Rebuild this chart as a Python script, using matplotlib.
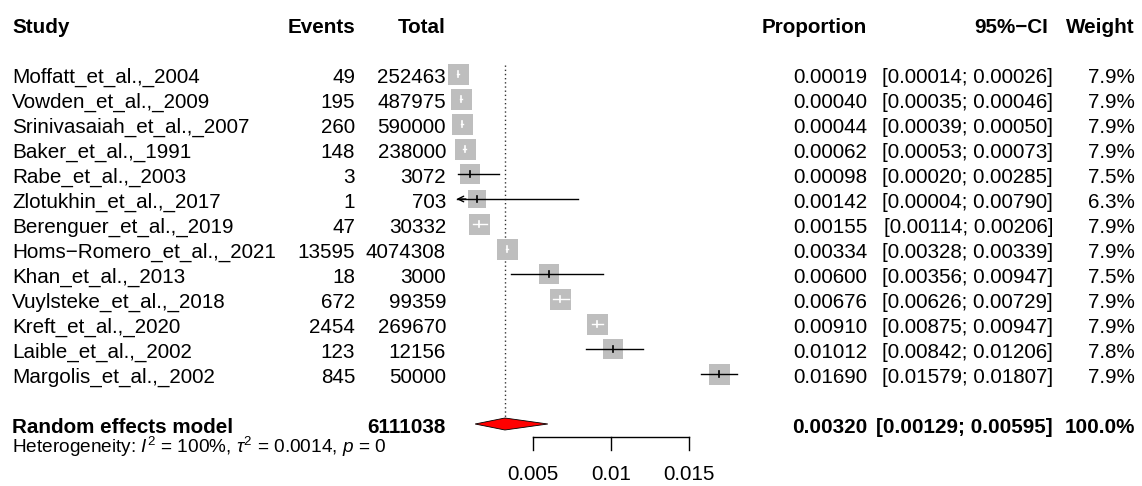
#Forest plot of proportions (random effects meta-analysis)
#Layout mimics the R meta::forest output

import numpy as np
import matplotlib.pyplot as plt
from matplotlib.patches import Polygon

plt.rcParams['font.family'] = ['Liberation Sans', 'DejaVu Sans']
plt.rcParams['mathtext.fontset'] = 'custom'
plt.rcParams['mathtext.rm'] = 'Liberation Sans'
plt.rcParams['mathtext.it'] = 'Liberation Sans:italic'

#Study data
studies = ["Moffatt_et_al.,_2004", "Vowden_et_al.,_2009", "Srinivasaiah_et_al.,_2007",
           "Baker_et_al.,_1991", "Rabe_et_al.,_2003", "Zlotukhin_et_al.,_2017",
           "Berenguer_et_al.,_2019", "Homs\u2212Romero_et_al.,_2021", "Khan_et_al.,_2013",
           "Vuylsteke_et_al.,_2018", "Kreft_et_al.,_2020", "Laible_et_al.,_2002",
           "Margolis_et_al.,_2002"]
events = [49, 195, 260, 148, 3, 1, 47, 13595, 18, 672, 2454, 123, 845]
totals = [252463, 487975, 590000, 238000, 3072, 703, 30332, 4074308, 3000, 99359, 269670, 12156, 50000]
props = [0.00019, 0.00040, 0.00044, 0.00062, 0.00098, 0.00142, 0.00155, 0.00334, 0.00600,
         0.00676, 0.00910, 0.01012, 0.01690]
lower = [0.00014, 0.00035, 0.00039, 0.00053, 0.00020, 0.00004, 0.00114, 0.00328, 0.00356,
         0.00626, 0.00875, 0.00842, 0.01579]
upper = [0.00026, 0.00046, 0.00050, 0.00073, 0.00285, 0.00790, 0.00206, 0.00339, 0.00947,
         0.00729, 0.00947, 0.01206, 0.01807]
weights = [7.9, 7.9, 7.9, 7.9, 7.5, 6.3, 7.9, 7.9, 7.5, 7.9, 7.9, 7.8, 7.9]

#Pooled estimate
total_all = 6111038
pooled = 0.00320
pooled_lo = 0.00129
pooled_hi = 0.00595
xticks = [0.005, 0.01, 0.015]
xtick_labels = ["0.005", "0.01", "0.015"]
xclip = 0.0001

W, H = 1142, 486
px_per_unit = 15600.0   #pixels per unit proportion
x0_px = 455.0           #pixel position of proportion 0
fs = 14.9

fig = plt.figure(figsize=(W/100, H/100), dpi=100)
ax = fig.add_axes([0, 0, 1, 1])
ax.set_xlim(-x0_px/px_per_unit, (W - x0_px)/px_per_unit)
#rows are 25 px apart, row 0 is the header
ax.set_ylim((H - 24)/25.0, -24/25.0)
ax.axis('off')

tr = ax.get_yaxis_transform()
def col(px):
    return px / float(W)

base = 0.36   #baseline offset below row centre

#Header
for txt, xp, ha in [("Study", 12, 'left'), ("Events", 355, 'right'), ("Total", 446, 'right'),
                    ("Proportion", 867, 'right'), ("95%\u2212CI", 1048, 'right'),
                    ("Weight", 1135, 'right')]:
    ax.text(col(xp), base, txt, transform=tr, ha=ha, va='baseline', fontsize=fs, fontweight='bold')

#Study rows
rows = np.arange(len(studies)) + 2
for i, r in enumerate(rows):
    ax.text(col(12), r + base, studies[i], transform=tr, ha='left', va='baseline', fontsize=fs)
    ax.text(col(355), r + base, str(events[i]), transform=tr, ha='right', va='baseline', fontsize=fs)
    ax.text(col(446), r + base, str(totals[i]), transform=tr, ha='right', va='baseline', fontsize=fs)
    ax.text(col(867), r + base, "%.5f" % props[i], transform=tr, ha='right', va='baseline', fontsize=fs)
    ax.text(col(1053), r + base, "[%.5f; %.5f]" % (lower[i], upper[i]), transform=tr,
            ha='right', va='baseline', fontsize=fs)
    ax.text(col(1135), r + base, "%.1f%%" % weights[i], transform=tr, ha='right', va='baseline', fontsize=fs)

    #square sized by weight
    side_px = 21.0 * np.sqrt(weights[i] / 7.9)
    ax.plot(props[i], r, 's', markersize=side_px*0.72, color='#BEBEBE', markeredgewidth=0, zorder=2)

    half = side_px / 2.0 / px_per_unit
    inside = (lower[i] >= props[i] - half) and (upper[i] <= props[i] + half)
    c = 'white' if inside else 'black'
    if lower[i] < xclip:
        ax.plot([xclip, upper[i]], [r, r], color=c, lw=1.0, zorder=3)
        ax.annotate('', xy=(xclip, r), xytext=(xclip + 0.0006, r),
                    arrowprops=dict(arrowstyle='->', color=c, lw=1.0, shrinkA=0, shrinkB=0,
                                    mutation_scale=10), zorder=3)
    else:
        ax.plot([lower[i], upper[i]], [r, r], color=c, lw=1.0, zorder=3)
    ax.plot([props[i], props[i]], [r - 0.12, r + 0.12], color=c, lw=1.2, zorder=3)

#Pooled estimate row
rp = 16
ax.text(col(12), rp + base, "Random effects model", transform=tr, ha='left', va='baseline',
        fontsize=fs, fontweight='bold')
ax.text(col(446), rp + base, str(total_all), transform=tr, ha='right', va='baseline',
        fontsize=fs, fontweight='bold')
ax.text(col(867), rp + base, "%.5f" % pooled, transform=tr, ha='right', va='baseline',
        fontsize=fs, fontweight='bold')
ax.text(col(1053), rp + base, "[%.5f; %.5f]" % (pooled_lo, pooled_hi), transform=tr, ha='right',
        va='baseline', fontsize=fs, fontweight='bold')
ax.text(col(1135), rp + base, "100.0%", transform=tr, ha='right', va='baseline',
        fontsize=fs, fontweight='bold')

diamond = Polygon([[pooled_lo, rp], [pooled, rp - 0.24], [pooled_hi, rp], [pooled, rp + 0.24]],
                  closed=True, facecolor='#FF0000', edgecolor='black', lw=0.6, zorder=3)
ax.add_patch(diamond)

#Heterogeneity
ax.text(col(12), (453 - 24)/25.0, r'Heterogeneity: $I^2$ = 100%, $\tau^2$ = 0.0014, $p$ = 0',
        transform=tr, ha='left', va='baseline', fontsize=13.7)

#Reference line at pooled estimate
ax.plot([pooled, pooled], [1.64, 15.76], color='0.2', lw=1.0, ls=(0, (1, 2)), zorder=1)

#x axis
ya = (437 - 24)/25.0
yt = (450 - 24)/25.0
ax.plot([xticks[0], xticks[-1]], [ya, ya], color='black', lw=1.0)
for t, lab in zip(xticks, xtick_labels):
    ax.plot([t, t], [ya, yt], color='black', lw=1.0)
    ax.text(t, (480 - 24)/25.0, lab, ha='center', va='baseline', fontsize=fs)

plt.savefig('out.png', dpi=100)
